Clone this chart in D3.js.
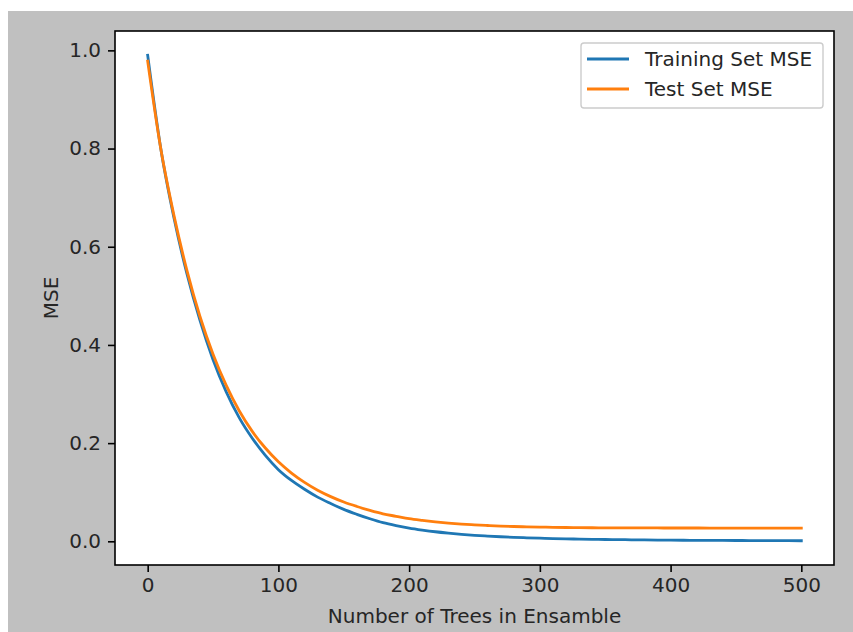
<!DOCTYPE html>
<html>
<head>
<meta charset="utf-8">
<script src="https://cdn.jsdelivr.net/npm/d3@7/dist/d3.min.js"></script>
<style>
  html, body { margin: 0; padding: 0; background: #ffffff; }
  svg { display: block; }
  text { font-family: "DejaVu Sans", sans-serif; fill: #262626; }
</style>
</head>
<body>
<svg id="chart" width="853" height="632"></svg>
<script>
// ---- data ----
const trees = [0,10,20,30,40,50,60,70,80,90,100,110,120,130,140,150,160,170,180,190,200,
  210,220,230,240,250,260,270,280,290,300,310,320,330,340,350,360,370,380,390,400,
  410,420,430,440,450,460,470,480,490,500];
const trainMSE = [0.990,0.800,0.660,0.545,0.450,0.370,0.305,0.252,0.210,0.175,0.146,
  0.124,0.106,0.090,0.077,0.065,0.055,0.046,0.038,0.032,0.027,
  0.023,0.0195,0.0167,0.0143,0.0123,0.0107,0.0093,0.0081,0.0071,0.0063,
  0.0056,0.0050,0.0045,0.0041,0.0037,0.0034,0.0031,0.0028,0.0026,0.0024,
  0.0022,0.0020,0.0019,0.0018,0.0017,0.0016,0.0015,0.0014,0.0013,0.0012];
const testMSE = [0.978,0.800,0.665,0.552,0.458,0.381,0.318,0.266,0.224,0.190,0.162,
  0.139,0.120,0.104,0.091,0.080,0.071,0.063,0.056,0.051,0.046,
  0.0425,0.0395,0.0370,0.0350,0.0335,0.0322,0.0311,0.0302,0.0295,0.0290,
  0.0285,0.0281,0.0278,0.0276,0.0275,0.0274,0.0273,0.0272,0.0272,0.0271,
  0.0271,0.0271,0.0270,0.0270,0.0270,0.0270,0.0270,0.0270,0.0270,0.0270];
const xTicks = [0,100,200,300,400,500];
const yTicks = [0.0,0.2,0.4,0.6,0.8,1.0];
const seriesNames = ["Training Set MSE","Test Set MSE"];
const seriesColors = ["#1f77b4","#ff7f0e"];
const xLabel = "Number of Trees in Ensamble";
const yLabel = "MSE";

// ---- layout ----
const svg = d3.select("#chart");
const W = 853, H = 632;
const ax = {left: 115, right: 834, top: 31, bottom: 565};

svg.append("rect").attr("x", 8).attr("y", 11).attr("width", W - 8).attr("height", H - 11)
  .attr("fill", "#c0c0c0");
svg.append("rect").attr("x", ax.left).attr("y", ax.top)
  .attr("width", ax.right - ax.left).attr("height", ax.bottom - ax.top).attr("fill", "#ffffff");

// matplotlib-like 5% margins
const xMin = d3.min(trees), xMax = d3.max(trees);
const allY = trainMSE.concat(testMSE);
const yMin = d3.min(allY), yMax = d3.max(allY);
const xPad = (xMax - xMin) * 0.05, yPad = (yMax - yMin) * 0.05;
const x = d3.scaleLinear().domain([xMin - xPad, xMax + xPad]).range([ax.left, ax.right]);
const y = d3.scaleLinear().domain([yMin - yPad, yMax + yPad]).range([ax.bottom, ax.top]);

const fs = 20;

// lines
const seriesData = [trainMSE, testMSE];
const line = d3.line().x((d, i) => x(trees[i])).y(d => y(d)).curve(d3.curveMonotoneX);
const plot = svg.append("g");
plot.append("clipPath").attr("id", "clip").append("rect")
  .attr("x", ax.left).attr("y", ax.top).attr("width", ax.right - ax.left).attr("height", ax.bottom - ax.top);
seriesData.forEach((s, k) => {
  plot.append("path").datum(s).attr("d", line).attr("fill", "none")
    .attr("stroke", seriesColors[k]).attr("stroke-width", 2.8)
    .attr("stroke-linecap", "square").attr("clip-path", "url(#clip)");
});

// axes
const xAxis = d3.axisBottom(x).tickValues(xTicks).tickSize(7).tickPadding(6).tickFormat(d3.format("d"));
const gx = svg.append("g").attr("transform", `translate(0,${ax.bottom})`).call(xAxis);
const yAxis = d3.axisLeft(y).tickValues(yTicks).tickSize(7).tickPadding(7).tickFormat(d3.format(".1f"));
const gy = svg.append("g").attr("transform", `translate(${ax.left},0)`).call(yAxis);
[gx, gy].forEach(g => {
  g.select(".domain").remove();
  g.selectAll(".tick line").attr("stroke", "#000").attr("stroke-width", 1.6);
  g.selectAll(".tick text").attr("font-size", fs).attr("font-family", "DejaVu Sans").attr("fill", "#262626");
});

// spines
svg.append("rect").attr("x", ax.left).attr("y", ax.top)
  .attr("width", ax.right - ax.left).attr("height", ax.bottom - ax.top)
  .attr("fill", "none").attr("stroke", "#000").attr("stroke-width", 1.6);

// axis labels
svg.append("text").attr("x", (ax.left + ax.right) / 2).attr("y", 623)
  .attr("text-anchor", "middle").attr("font-size", fs).text(xLabel);
svg.append("text").attr("transform", `translate(58,${(ax.top + ax.bottom) / 2}) rotate(-90)`)
  .attr("text-anchor", "middle").attr("font-size", fs).text(yLabel);

// legend
const lg = svg.append("g");
lg.append("rect").attr("x", 581).attr("y", 43).attr("width", 242).attr("height", 65)
  .attr("rx", 3).attr("fill", "#ffffff").attr("fill-opacity", 0.8)
  .attr("stroke", "#cccccc").attr("stroke-width", 1.4);
seriesNames.forEach((name, k) => {
  const cy = 59 + k * 30;
  lg.append("line").attr("x1", 587).attr("x2", 629).attr("y1", cy).attr("y2", cy)
    .attr("stroke", seriesColors[k]).attr("stroke-width", 2.8);
  lg.append("text").attr("x", 645).attr("y", cy).attr("dy", "0.36em")
    .attr("font-size", fs).text(name);
});
</script>
</body>
</html>
